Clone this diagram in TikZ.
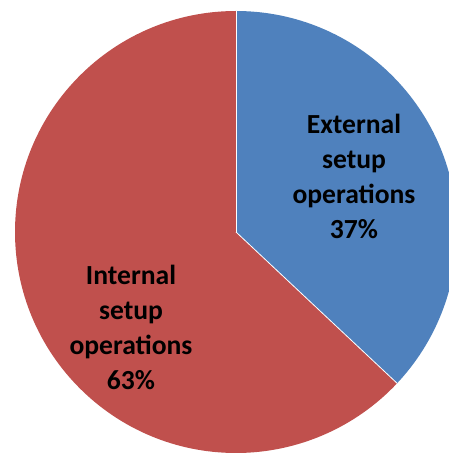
\documentclass[tikz,border=0pt]{standalone}
\usepackage{fontspec}
\setmainfont{Carlito}
\definecolor{extblue}{HTML}{4F81BD}
\definecolor{intred}{HTML}{C0504D}
\tikzset{
  slice/.style={draw=white, line width=0.8pt, line join=round},
  lbl/.style={align=center, text=black, font=\fontsize{27.6}{35}\selectfont\bfseries, inner sep=0pt}
}
\begin{document}
\begin{tikzpicture}[x=1pt,y=1pt]
\useasboundingbox (0,0) rectangle (449,453);
\coordinate (c) at (236,221);
\fill[intred] (c) -- ++(90:221) arc[start angle=90, end angle=316.8, radius=221] -- cycle;
\fill[extblue] (c) -- ++(90:221) arc[start angle=90, end angle=-43.2, radius=221] -- cycle;
\draw[slice] (c) -- ++(90:221);
\draw[slice] (c) -- ++(-43.2:221);
\node[lbl] (ext) at (354,277) {External\\setup\\operations\\37\%};
\node[lbl] (int) at (131,126) {Internal\\setup\\operations\\63\%};
\end{tikzpicture}
\end{document}
